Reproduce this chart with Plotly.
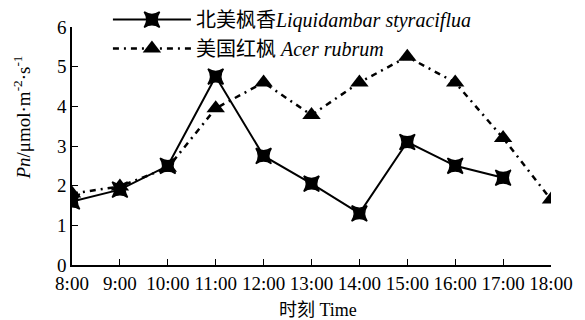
import plotly.graph_objects as go

times = ["8:00", "9:00", "10:00", "11:00", "12:00", "13:00", "14:00", "15:00", "16:00", "17:00", "18:00"]
liquidambar = [1.6, 1.9, 2.5, 4.75, 2.75, 2.05, 1.3, 3.1, 2.5, 2.2, None]
acer = [1.8, 1.98, 2.45, 3.95, 4.6, 3.78, 4.6, 5.25, 4.6, 3.2, 1.65]
yticks = [0, 1, 2, 3, 4, 5, 6]

xpos = list(range(len(times)))
font_family = "'Liberation Serif', 'DejaVu Serif', 'Noto Sans CJK SC', serif"

fig = go.Figure()
fig.add_trace(go.Scatter(
    x=xpos, y=liquidambar, mode="lines+markers",
    name="北美枫香<i>Liquidambar styraciflua</i>",
    line=dict(color="black", width=2),
    marker=dict(symbol="star-square", size=14, color="black",
                line=dict(color="black", width=1.5)),
))
fig.add_trace(go.Scatter(
    x=xpos, y=acer, mode="lines+markers",
    name="美国红枫 <i>Acer rubrum</i>",
    line=dict(color="black", width=2.5, dash="6px,5px,2px,5px"),
    marker=dict(symbol="triangle-up", size=16, color="black"),
))

fig.add_annotation(
    text="<i>Pn</i>/μmol·m<sup>-2</sup>·s<sup>-1</sup>",
    xref="paper", yref="paper", x=-0.104, y=0.62,
    xanchor="center", yanchor="middle", textangle=-90, showarrow=False,
    font=dict(size=19),
)
fig.add_annotation(
    text="时刻 Time",
    xref="paper", yref="paper", x=0.514, y=-0.189,
    xanchor="center", yanchor="middle", showarrow=False,
    font=dict(size=18),
)

fig.update_layout(
    width=585, height=320,
    margin=dict(l=72, r=34, t=27, b=55, autoexpand=False),
    paper_bgcolor="white", plot_bgcolor="white",
    font=dict(family=font_family, size=19, color="black"),
    showlegend=True,
    legend=dict(x=0.075, y=1.113, xanchor="left", yanchor="top",
                bgcolor="rgba(0,0,0,0)", itemwidth=78,
                font=dict(size=20), tracegroupgap=0),
    xaxis=dict(
        range=[0, 10], tickmode="array", tickvals=xpos, ticktext=times,
        showline=True, linecolor="black", linewidth=1.5,
        ticks="inside", ticklen=6, tickcolor="black", showgrid=False,
        zeroline=False, tickfont=dict(size=19),
    ),
    yaxis=dict(
        range=[0, 6], tickvals=yticks,
        showline=True, linecolor="black", linewidth=1.5,
        ticks="inside", ticklen=6, tickcolor="black", showgrid=False,
        zeroline=False, tickfont=dict(size=19),
    ),
)

fig.write_html("out.html", config={"displayModeBar": False},
               post_script="document.body.style.margin='0';")
